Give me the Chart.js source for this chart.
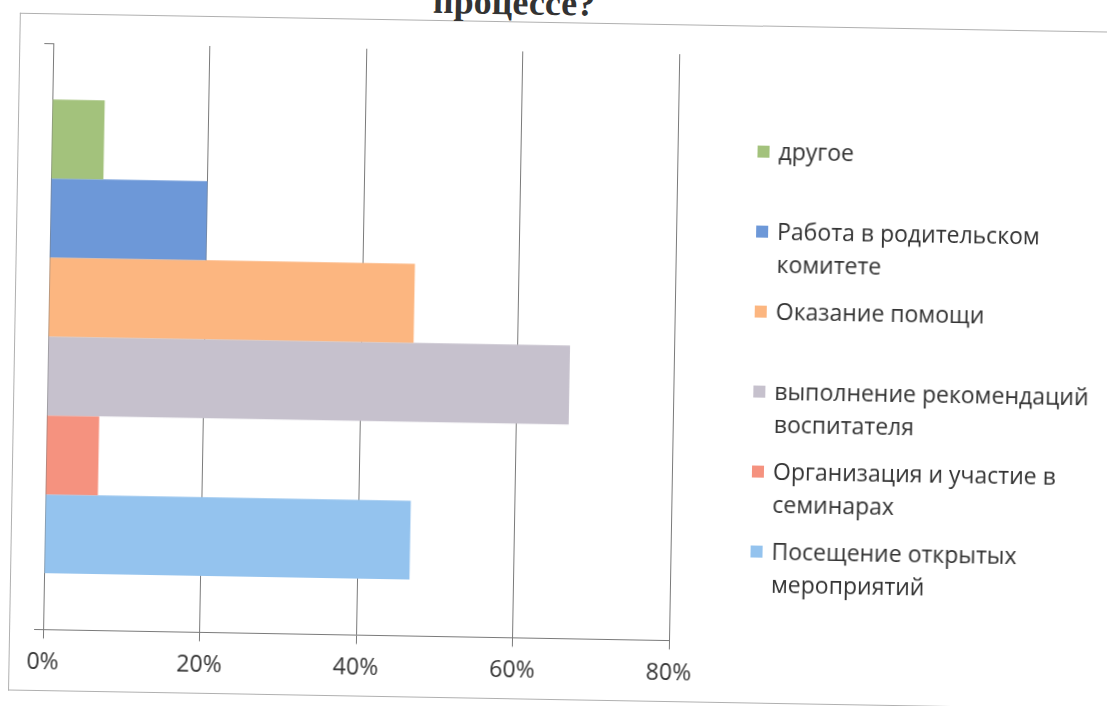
<!DOCTYPE html>
<html lang="ru">
<head>
    <meta charset="UTF-8">
    <title>процессе?</title>
    <script src="https://cdn.jsdelivr.net/npm/chart.js@4.4.1/dist/chart.umd.js"></script>
    <style>
        html, body { margin: 0; padding: 0; background: #fff; }
        body { width: 1107px; height: 706px; overflow: hidden; position: relative; }
        /* the scan is tilted about one degree */
        #page { position: absolute; left: 0; top: 0; width: 1107px; height: 706px;
                transform: rotate(1deg); transform-origin: 553px 353px; }
        #frame { position: absolute; left: 14px; top: 22px; width: 1200px; height: 676px;
                 border-top: 1px solid #b0b0b0; border-left: 1px solid #b0b0b0; border-bottom: 1px solid #b0b0b0; }
        #title { position: absolute; left: 308px; width: 400px; top: -15px; text-align: center;
                 font: bold 36px/36px "Liberation Serif", serif; color: #333; }
        #chart { position: absolute; left: 0; top: 0; }
        .item { position: absolute; left: 754px; font: 23px/33px "Open Sans", sans-serif; color: #333; }
        .item i { position: absolute; left: 0; top: 11px; width: 12px; height: 12px; }
        .item span { display: block; margin-left: 21px; white-space: pre; }
    </style>
</head>
<body>
<div id="page">
    <div id="frame"></div>
    <div id="title">процессе?</div>
    <canvas id="chart" width="1107" height="706"></canvas>
    <div id="legend"></div>
</div>
<script>
    const categories = [''];
    const seriesNames = [
        'другое',
        'Работа в родительском\nкомитете',
        'Оказание помощи',
        'выполнение рекомендаций\nвоспитателя',
        'Организация и участие в\nсеминарах',
        'Посещение открытых\nмероприятий'
    ];
    const seriesValues = [6.7, 20, 46.7, 66.7, 6.7, 46.7];
    const seriesColors = ['#a3c27c', '#6d98d8', '#fcb680', '#c6c1cd', '#f5927f', '#94c3ee'];
    const xTicks = [0, 20, 40, 60, 80];

    const datasets = seriesNames.map((name, i) => ({
        label: name.replace('\n', ' '),
        data: [seriesValues[i]],
        backgroundColor: seriesColors[i],
        borderWidth: 0,
        barPercentage: 1,
        categoryPercentage: 0.808
    }));

    new Chart(document.getElementById('chart'), {
        type: 'bar',
        data: { labels: categories, datasets: datasets },
        options: {
            indexAxis: 'y',
            responsive: false,
            animation: false,
            layout: { padding: { left: 39, right: 433, top: 52, bottom: 11 } },
            plugins: { legend: { display: false }, tooltip: { enabled: false } },
            scales: {
                x: {
                    min: xTicks[0],
                    max: xTicks[xTicks.length - 1],
                    afterBuildTicks: axis => { axis.ticks = xTicks.map(v => ({ value: v })); },
                    ticks: {
                        callback: v => v + '%',
                        font: { family: 'Open Sans', size: 23 },
                        color: '#333',
                        padding: 10,
                        maxRotation: 0
                    },
                    grid: { color: '#7a7a7a', lineWidth: 1, tickLength: 9 },
                    border: { color: '#7a7a7a' }
                },
                y: {
                    ticks: { display: false },
                    grid: { drawOnChartArea: false, tickLength: 9, color: '#7a7a7a' },
                    border: { color: '#7a7a7a' }
                }
            }
        }
    });

    // legend, one slot of 80px per series, as in the original
    const legend = document.getElementById('legend');
    seriesNames.forEach((name, i) => {
        const item = document.createElement('div');
        item.className = 'item';
        item.style.top = (131 + i * 80) + 'px';
        item.innerHTML = '<i style="background:' + seriesColors[i] + '"></i><span></span>';
        item.querySelector('span').textContent = name;
        legend.appendChild(item);
    });
</script>
</body>
</html>
